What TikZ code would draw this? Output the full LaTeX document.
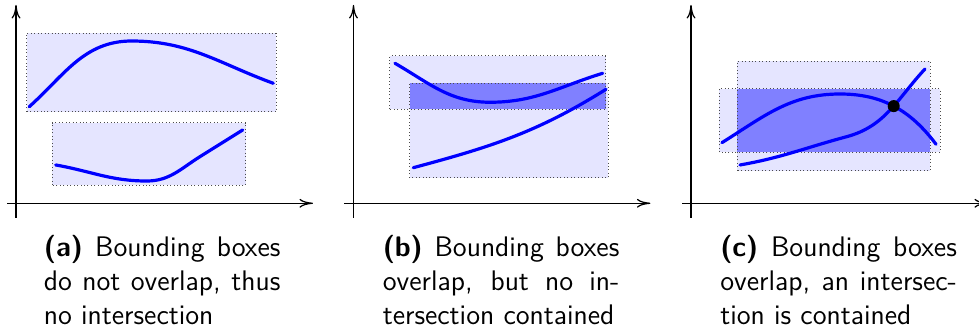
\documentclass[tikz,border=0pt]{standalone}
\usetikzlibrary{arrows.meta,intersections}

\tikzset{
  bbox/.style={fill=blue!10},
  bboxline/.style={draw=black!70, densely dotted, line width=0.4pt},
  overlap/.style={fill=blue!50},
  curve/.style={blue, line width=1.3pt, line cap=round},
  axis/.style={->, line width=0.5pt},
  caption/.style={anchor=base west, inner sep=0pt, text width=3.38cm, align=justify,
    font=\sffamily\fontsize{11.5}{13.8}\selectfont}
}

\begin{document}
\begin{tikzpicture}[>={To[length=5.5pt,width=3.6pt]}]
  \useasboundingbox (0,0) rectangle (13.986,4.757);

  % (a) boxes apart
  \begin{scope}
    \fill[bbox] (0.381,3.161) rectangle (3.943,4.281);
    \fill[bbox] (0.747,2.114) rectangle (3.510,3.004);
    \draw[bboxline] (0.381,3.161) rectangle (3.943,4.281);
    \draw[bboxline] (0.747,2.114) rectangle (3.510,3.004);
    \draw[curve] (0.419,3.233) to[out=42,in=180] (1.881,4.171) to[out=0,in=160] (3.904,3.567);
    \draw[curve] (0.796,2.400) to[out=-10,in=180] (2.096,2.171) to[out=0,in=212] (2.857,2.519)
      to[out=32,in=212] (3.467,2.900);
    \draw[axis] (0.100,1.853) -- (4.471,1.853);
    \draw[axis] (0.229,1.643) -- (0.229,4.686);
    \node[caption] (capa) at (0.62,1.09)
      {\textbf{(a)} Bounding boxes\linebreak do not overlap, thus\linebreak no intersection};
  \end{scope}

  % (b) boxes overlap, curves do not meet
  \begin{scope}[xshift=4.821cm]
    \fill[bbox] (0.750,3.196) rectangle (3.836,3.957);
    \fill[bbox] (1.036,2.219) rectangle (3.869,3.567);
    \fill[overlap] (1.036,3.196) rectangle (3.836,3.567);
    \draw[bboxline] (0.750,3.196) rectangle (3.836,3.957);
    \draw[bboxline] (1.036,2.219) rectangle (3.869,3.567);
    \draw[curve] (0.821,3.853) to[out=-30,in=180] (2.179,3.296) to[out=0,in=197] (3.789,3.710);
    \draw[curve] (1.083,2.361) to[out=15,in=212] (3.836,3.481);
    \draw[axis] (0.100,1.853) -- (4.471,1.853);
    \draw[axis] (0.229,1.643) -- (0.229,4.686);
    \node[caption] (capb) at (0.64,1.09)
      {\textbf{(b)} Bounding boxes\linebreak overlap, but no in-\linebreak tersection contained};
  \end{scope}

  % (c) boxes overlap, curves cross
  \begin{scope}[xshift=9.643cm]
    \fill[bbox] (0.890,2.319) rectangle (3.643,3.881);
    \fill[bbox] (0.633,2.581) rectangle (3.786,3.486);
    \fill[overlap] (0.890,2.581) rectangle (3.643,3.486);
    \draw[bboxline] (0.890,2.319) rectangle (3.643,3.881);
    \draw[bboxline] (0.633,2.581) rectangle (3.786,3.486);
    \draw[curve, name path=hump] (0.671,2.719) to[out=32,in=180] (2.357,3.414) to[out=0,in=127] (3.729,2.696);
    \draw[curve, name path=rise] (0.929,2.400) to[out=10,in=195] (2.452,2.804) to[out=15,in=227] (3.571,3.771);
    \path[name intersections={of=hump and rise, by=ix}];
    \fill (ix) circle (0.086);
    \draw[axis] (0.100,1.853) -- (4.471,1.853);
    \draw[axis] (0.229,1.643) -- (0.229,4.686);
    \node[caption] (capc) at (0.64,1.09)
      {\textbf{(c)} Bounding boxes\linebreak overlap, an intersec-\linebreak tion is contained};
  \end{scope}
\end{tikzpicture}
\end{document}
